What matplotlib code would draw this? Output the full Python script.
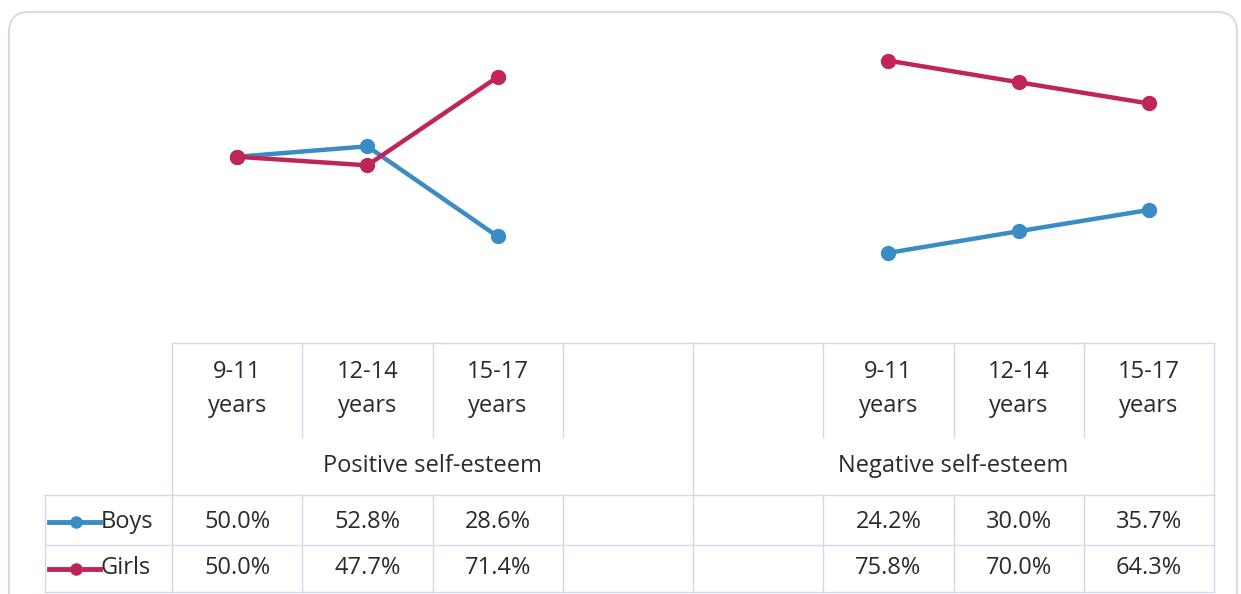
import numpy as np
import matplotlib
matplotlib.use("Agg")
import matplotlib.pyplot as plt
from matplotlib.patches import FancyBboxPatch
from matplotlib.lines import Line2D

# data
categories = ["9-11\nyears", "12-14\nyears", "15-17\nyears", "", "",
              "9-11\nyears", "12-14\nyears", "15-17\nyears"]
groups = ["Positive self-esteem", "Negative self-esteem"]
boys = [50.0, 52.8, 28.6, None, None, 24.2, 30.0, 35.7]
girls = [50.0, 47.7, 71.4, None, None, 75.8, 70.0, 64.3]
series = ["Boys", "Girls"]
colors = ["#3a8cc4", "#bf2558"]

plt.rcParams["font.family"] = ["Open Sans", "DejaVu Sans"]

W, H = 1241, 594
fig = plt.figure(figsize=(W / 100, H / 100), dpi=100)
fig.patch.set_facecolor("white")

# pixel layout of the table / plot
tab_left, leg_left, tab_right = 172, 45, 1214
cw = (tab_right - tab_left) / len(categories)
y_top, y_hdr, y_grp, y_mid, y_bot = 343, 437, 495, 545, 592
plot_top = 45

# background axes in pixel units for border + table
tax = fig.add_axes([0, 0, 1, 1])
tax.set_xlim(0, W)
tax.set_ylim(H, 0)
tax.axis("off")
tax.add_patch(FancyBboxPatch((9, 12), 1228, H + 10, boxstyle="round,pad=0,rounding_size=20",
                             fc="white", ec="#d6dbe6", lw=1.5))

gc = "#d3dae6"
lw = 1.0
# horizontal lines
tax.plot([tab_left, tab_right], [y_top, y_top], color=gc, lw=lw)
tax.plot([leg_left, tab_right], [y_grp, y_grp], color=gc, lw=lw)
tax.plot([leg_left, tab_right], [y_mid, y_mid], color=gc, lw=lw)
tax.plot([leg_left, tab_right], [y_bot, y_bot], color=gc, lw=lw)
# vertical lines
for i in range(len(categories) + 1):
    x = tab_left + i * cw
    if i in (0, 4, 8):
        tax.plot([x, x], [y_top, y_bot], color=gc, lw=lw)
    else:
        tax.plot([x, x], [y_top, y_hdr], color=gc, lw=lw)
        tax.plot([x, x], [y_grp, y_bot], color=gc, lw=lw)
tax.plot([leg_left, leg_left], [y_grp, y_bot], color=gc, lw=lw)

fs = 17
tc = "#2a2a2a"
for i, lab in enumerate(categories):
    xc = tab_left + (i + 0.5) * cw
    if lab:
        tax.text(xc, (y_top + y_hdr) / 2 - 1, lab, ha="center", va="center", fontsize=fs,
                 color=tc, linespacing=1.6)
    for vals, yr in ((boys, (y_grp + y_mid) / 2 + 2), (girls, (y_mid + y_bot) / 2)):
        if vals[i] is not None:
            tax.text(xc, yr, f"{vals[i]:.1f}%", ha="center", va="center", fontsize=fs, color=tc)

for g, gname in enumerate(groups):
    xc = tab_left + (g * 4 + 2) * cw
    tax.text(xc, (y_hdr + y_grp) / 2, gname, ha="center", va="center", fontsize=fs, color=tc)

# legend keys
for k, (name, c) in enumerate(zip(series, colors)):
    yr = (y_grp + y_mid) / 2 + 2 if k == 0 else (y_mid + y_bot) / 2
    tax.add_line(Line2D([49, 100], [yr, yr], color=c, lw=3.5))
    tax.plot([76], [yr], "o", color=c, ms=8)
    tax.text(101, yr, name, ha="left", va="center", fontsize=fs, color=tc)

# line chart
ax = fig.add_axes([tab_left / W, (H - y_top) / H, (tab_right - tab_left) / W,
                   (y_top - plot_top) / H])
ax.patch.set_alpha(0)
x = np.arange(len(categories))
for vals, c in zip((boys, girls), colors):
    v = np.array([np.nan if a is None else a for a in vals])
    ax.plot(x, v, color=c, lw=3.2, marker="o", ms=10, solid_capstyle="round")
ax.set_xlim(-0.5, len(categories) - 0.5)
ax.set_ylim(0, 80)
ax.axis("off")

fig.savefig("out.png", dpi=100, facecolor="white")
